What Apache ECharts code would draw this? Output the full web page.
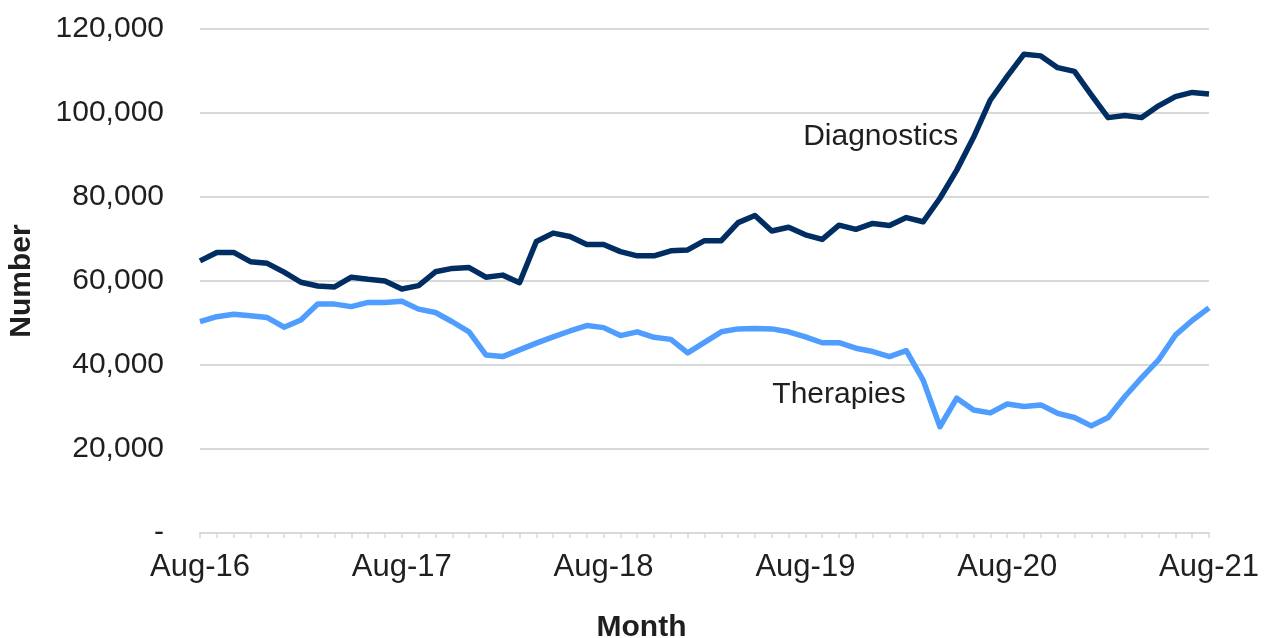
<!DOCTYPE html>
<html>
<head>
<meta charset="utf-8">
<script src="https://cdn.jsdelivr.net/npm/echarts@6/dist/echarts.min.js"></script>
<style>
  html, body { margin: 0; padding: 0; background: #fff; }
  #chart { width: 1265px; height: 638px; }
</style>
</head>
<body>
<div id="chart"></div>
<script>
const months = [
  'Aug-16','Sep-16','Oct-16','Nov-16','Dec-16','Jan-17','Feb-17','Mar-17','Apr-17','May-17','Jun-17','Jul-17',
  'Aug-17','Sep-17','Oct-17','Nov-17','Dec-17','Jan-18','Feb-18','Mar-18','Apr-18','May-18','Jun-18','Jul-18',
  'Aug-18','Sep-18','Oct-18','Nov-18','Dec-18','Jan-19','Feb-19','Mar-19','Apr-19','May-19','Jun-19','Jul-19',
  'Aug-19','Sep-19','Oct-19','Nov-19','Dec-19','Jan-20','Feb-20','Mar-20','Apr-20','May-20','Jun-20','Jul-20',
  'Aug-20','Sep-20','Oct-20','Nov-20','Dec-20','Jan-21','Feb-21','Mar-21','Apr-21','May-21','Jun-21','Jul-21',
  'Aug-21'
];

const diagnostics = [
  64800, 66800, 66800, 64600, 64200, 62100, 59700, 58800, 58600, 60900, 60400, 60000,
  58100, 58900, 62200, 63000, 63200, 60900, 61400, 59600, 69400, 71400, 70600, 68700,
  68700, 67000, 66000, 66000, 67200, 67400, 69600, 69600, 73900, 75600, 71900, 72800,
  71000, 69900, 73300, 72300, 73700, 73200, 75100, 74100, 79700, 86400, 94200, 103100,
  108700, 114000, 113600, 110800, 109900, 104300, 98900, 99400, 98900, 101700, 103900, 104900,
  104500
];

const therapies = [
  50300, 51500, 52100, 51700, 51300, 49000, 50700, 54500, 54500, 53900, 54900, 54900,
  55200, 53300, 52500, 50300, 47900, 42400, 42000, 43600, 45200, 46700, 48100, 49400,
  48900, 47000, 47900, 46600, 46100, 42900, 45400, 47900, 48600, 48700, 48600, 47900,
  46700, 45300, 45300, 44000, 43200, 42000, 43400, 36400, 25300, 32100, 29300, 28600,
  30700, 30100, 30500, 28500, 27500, 25500, 27500, 32500, 37000, 41200, 47100, 50600,
  53600
];

const yTicks = { min: 0, max: 120000, interval: 20000 };
const seriesNames = ['Diagnostics', 'Therapies'];
const labelAnchors = [['Dec-19', 94800], ['Oct-19', 33300]];

const textColor = '#1f1f1f';
const fontFamily = 'Liberation Sans, Arial, sans-serif';

const chart = echarts.init(document.getElementById('chart'), null, { renderer: 'canvas' });

function fmt(v) {
  if (v === 0) return '-';
  return v.toString().replace(/\B(?=(\d{3})+(?!\d))/g, ',');
}

chart.setOption({
  animation: false,
  backgroundColor: '#ffffff',
  grid: { left: 200, right: 56, top: 29, bottom: 105, containLabel: false, outerBoundsMode: 'none' },
  xAxis: {
    type: 'category',
    data: months,
    boundaryGap: false,
    name: 'Month',
    nameLocation: 'middle',
    nameGap: 80,
    nameTextStyle: { fontFamily, fontSize: 30, fontWeight: 'bold', color: textColor, padding: [0, 126, 0, 0] },
    axisLine: { show: true, lineStyle: { color: '#d9d9d9', width: 2 } },
    axisTick: { show: true, interval: 0, length: 5, lineStyle: { color: '#d9d9d9', width: 1.5 } },
    axisLabel: {
      interval: function (i) { return i % 12 === 0; },
      margin: 19,
      fontFamily, fontSize: 31, color: textColor,
      showMaxLabel: true
    },
    splitLine: { show: false }
  },
  yAxis: {
    type: 'value',
    min: yTicks.min, max: yTicks.max, interval: yTicks.interval,
    name: 'Number',
    nameLocation: 'middle',
    nameGap: 163,
    nameRotate: 90,
    nameTextStyle: { fontFamily, fontSize: 30, fontWeight: 'bold', color: textColor },
    axisLine: { show: false },
    axisTick: { show: false },
    axisLabel: { formatter: fmt, margin: 36, fontFamily, fontSize: 30, color: textColor },
    splitLine: { show: true, lineStyle: { color: '#d9d9d9', width: 2 } }
  },
  series: [
    {
      name: seriesNames[0],
      type: 'line',
      data: diagnostics,
      symbol: 'none',
      lineStyle: { color: '#002d62', width: 5.5, join: 'round' },
      itemStyle: { color: '#002d62' },
      markPoint: {
        symbol: 'circle', symbolSize: 0,
        data: [{ coord: labelAnchors[0], value: seriesNames[0] }],
        label: { show: true, formatter: seriesNames[0], position: 'inside', offset: [8, 2],
                 fontFamily, fontSize: 30, color: textColor }
      }
    },
    {
      name: seriesNames[1],
      type: 'line',
      data: therapies,
      symbol: 'none',
      lineStyle: { color: '#4f9dff', width: 5.5, join: 'round' },
      itemStyle: { color: '#4f9dff' },
      markPoint: {
        symbol: 'circle', symbolSize: 0,
        data: [{ coord: labelAnchors[1], value: seriesNames[1] }],
        label: { show: true, formatter: seriesNames[1], position: 'inside', offset: [0, 2],
                 fontFamily, fontSize: 30, color: textColor }
      }
    }
  ]
});
</script>
</body>
</html>
